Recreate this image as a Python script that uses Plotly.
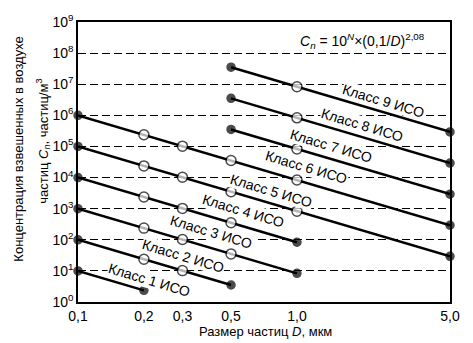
import math
import plotly.graph_objects as go

# ---- data (ISO 14644-1 class limits) ----
sizes_um = [0.1, 0.2, 0.3, 0.5, 1.0, 5.0]
size_labels = ["0,1", "0,2", "0,3", "0,5", "1,0", "5,0"]

class1_d = [0.1, 0.2]
class1_c = [10, 2.37]
class2_d = [0.1, 0.2, 0.3, 0.5]
class2_c = [100, 23.7, 10.2, 3.52]
class3_d = [0.1, 0.2, 0.3, 0.5, 1.0]
class3_c = [1000, 237, 102, 35.2, 8.32]
class4_d = [0.1, 0.2, 0.3, 0.5, 1.0]
class4_c = [10000, 2370, 1020, 352, 83.2]
class5_d = [0.1, 0.2, 0.3, 0.5, 1.0, 5.0]
class5_c = [100000, 23700, 10200, 3520, 832, 29.3]
class6_d = [0.1, 0.2, 0.3, 0.5, 1.0, 5.0]
class6_c = [1000000, 237000, 102000, 35200, 8320, 293]
class7_d = [0.5, 1.0, 5.0]
class7_c = [352000, 83200, 2930]
class8_d = [0.5, 1.0, 5.0]
class8_c = [3520000, 832000, 29300]
class9_d = [0.5, 1.0, 5.0]
class9_c = [35200000, 8320000, 293000]

y_tick_vals = [10 ** k for k in range(0, 10)]
y_tick_text = ["10<sup>%d</sup>" % k for k in range(0, 10)]

series = [
    (1, class1_d, class1_c), (2, class2_d, class2_c), (3, class3_d, class3_c),
    (4, class4_d, class4_c), (5, class5_d, class5_c), (6, class6_d, class6_c),
    (7, class7_d, class7_c), (8, class8_d, class8_c), (9, class9_d, class9_c),
]

# label anchor positions (D, C) for "Класс N ИСО"
label_pos = {1: (0.212, 5.0), 2: (0.303, 31), 3: (0.408, 180), 4: (0.572, 830),
             5: (0.769, 3700), 6: (1.10, 21500), 7: (1.436, 107000),
             8: (1.99, 4.9e5), 9: (2.49, 2.8e6)}

FONT = "Liberation Sans, Arial, sans-serif"

fig = go.Figure()
for n, d, c in series:
    colors = ["black" if i in (0, len(d) - 1) else "white" for i in range(len(d))]
    sizes = [8 if i in (0, len(d) - 1) else 10 for i in range(len(d))]
    fig.add_trace(go.Scatter(
        x=d, y=c, mode="lines+markers",
        line=dict(color="black", width=2.5),
        marker=dict(color=colors, size=sizes, line=dict(color="black", width=1.5)),
        cliponaxis=False, showlegend=False, name="Класс %d ИСО" % n,
    ))

annotations = []
for n, (dx, cy) in label_pos.items():
    annotations.append(dict(
        x=math.log10(dx), y=math.log10(cy), xref="x", yref="y",
        xanchor="center", yanchor="middle",
        text="Класс %d ИСО" % n, showarrow=False, textangle=16.7,
        font=dict(family=FONT, size=14, color="black"),
        bgcolor="white", borderpad=0,
    ))

annotations.append(dict(
    x=math.log10(1.99), y=8.4, xref="x", yref="y", xanchor="center", yanchor="middle",
    text="<i>C<sub>n</sub></i> = 10<sup><i>N</i></sup>×(0,1/<i>D</i>)<sup>2,08</sup>",
    showarrow=False, font=dict(family=FONT, size=14, color="black"),
))
annotations.append(dict(
    x=(19 - 78) / 372, y=(302 - 148) / 283, xref="paper", yref="paper",
    xanchor="center", yanchor="middle",
    text="Концентрация взвешенных в воздухе", textangle=-90, showarrow=False,
    font=dict(family=FONT, size=13, color="black"),
))
annotations.append(dict(
    x=(43 - 78) / 372, y=(302 - 140) / 283, xref="paper", yref="paper",
    xanchor="center", yanchor="middle",
    text="частиц <i>C<sub>n</sub></i>, частиц/м<sup>3</sup>", textangle=-90, showarrow=False,
    font=dict(family=FONT, size=13, color="black"),
))
annotations.append(dict(
    x=(265 - 78) / 372, y=(302 - 332) / 283, xref="paper", yref="paper",
    xanchor="center", yanchor="middle",
    text="Размер частиц <i>D</i>, мкм", showarrow=False,
    font=dict(family=FONT, size=13, color="black"),
))

fig.update_layout(
    width=473, height=343,
    margin=dict(l=78, r=23, t=19, b=41),
    paper_bgcolor="white", plot_bgcolor="white",
    font=dict(family=FONT, size=13, color="black"),
    annotations=annotations,
    xaxis=dict(
        type="log", range=[-1, math.log10(5.0)],
        tickvals=sizes_um, ticktext=size_labels,
        showgrid=False, zeroline=False,
        showline=True, linecolor="black", linewidth=1.5, mirror=True,
        ticks="", tickfont=dict(family=FONT, size=14, color="black"),
    ),
    yaxis=dict(
        type="log", range=[0, 9],
        tickvals=y_tick_vals, ticktext=y_tick_text,
        showgrid=True, gridcolor="black", gridwidth=1.2, griddash="8px,4px",
        zeroline=False,
        showline=True, linecolor="black", linewidth=1.5, mirror=True,
        ticks="", tickfont=dict(family=FONT, size=14, color="black"),
    ),
)

fig.write_html("out.html")
